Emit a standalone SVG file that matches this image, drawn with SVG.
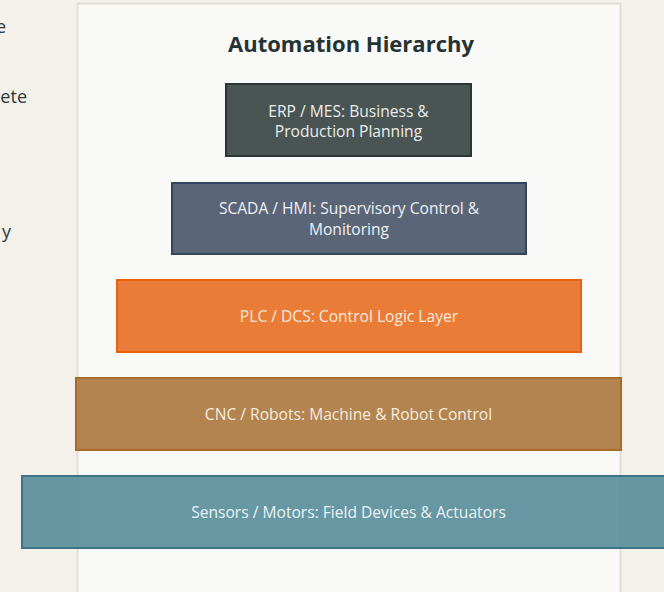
<svg xmlns="http://www.w3.org/2000/svg" width="664" height="592" viewBox="0 0 664 592">
<style>
.frag{font-family:"Open Sans","Noto Sans",sans-serif;font-size:18px;fill:#2d3a3a}
.title{font-family:"Open Sans","Noto Sans",sans-serif;font-size:22px;font-weight:bold;fill:#253333;text-anchor:middle}
.lbl{font-family:"Open Sans","Noto Sans",sans-serif;font-size:15.6px;text-anchor:middle}
.box{stroke-width:2}
</style>
<rect x="0" y="0" width="664" height="592" fill="#f4f0ea"/>
<text class="frag" x="6" y="33" text-anchor="end">e</text>
<text class="frag" x="27" y="103" text-anchor="end">ete</text>
<text class="frag" x="11" y="238" text-anchor="end">y</text>
<g id="panel">
<rect x="77.5" y="3.5" width="543" height="600" fill="#f9f9f7" stroke="#e2ddd6" stroke-width="2"/>
</g>
<text class="title" x="351" y="52">Automation Hierarchy</text>
<g id="connectors"></g>
<g id="erp">
<rect class="box" x="226" y="84" width="245" height="72" fill="#4a5452" stroke="#2b3535"/>
<text class="lbl" x="348.5" y="117" fill="#e9eded">ERP / MES: Business &amp;</text>
<text class="lbl" x="348.5" y="137" fill="#e9eded">Production Planning</text>
</g>
<g id="scada">
<rect class="box" x="172" y="183" width="354" height="71" fill="#5a6678" stroke="#34445a"/>
<text class="lbl" x="349" y="214" fill="#eef0f4">SCADA / HMI: Supervisory Control &amp;</text>
<text class="lbl" x="349" y="235" fill="#eef0f4">Monitoring</text>
</g>
<g id="plc">
<rect class="box" x="117" y="280" width="464" height="72" fill="#e97d37" stroke="#e8620f"/>
<text class="lbl" x="349" y="322" fill="#fde9dc">PLC / DCS: Control Logic Layer</text>
</g>
<g id="cnc">
<rect class="box" x="76" y="378" width="545" height="72" fill="#b38450" stroke="#a86a2b"/>
<text class="lbl" x="348.5" y="420" fill="#f6ecdf">CNC / Robots: Machine &amp; Robot Control</text>
</g>
<g id="sensors">
<rect class="box" x="22" y="476" width="656" height="72" fill="#5a8f9c" fill-opacity="0.93" stroke="#3d7483"/>
<text class="lbl" x="348.5" y="518" fill="#eaf4f5">Sensors / Motors: Field Devices &amp; Actuators</text>
</g>
</svg>
